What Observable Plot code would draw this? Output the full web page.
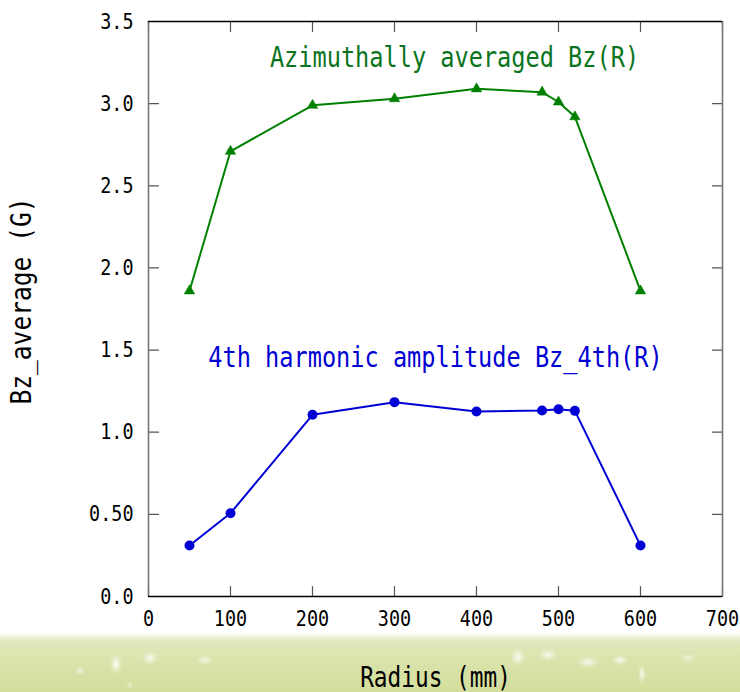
<!DOCTYPE html>
<html>
<head>
<meta charset="utf-8">
<script src="https://cdn.jsdelivr.net/npm/d3@7"></script>
<script src="https://cdn.jsdelivr.net/npm/@observablehq/plot@0.6"></script>
<style>
  html, body { margin: 0; padding: 0; background: #fff; }
  #chart {
    position: relative;
    width: 740px;
    height: 692px;
    overflow: hidden;
    background:
      radial-gradient(ellipse 6px 10px at 116px 664px, rgba(255,255,255,.9), rgba(255,255,255,0)),
      radial-gradient(ellipse 8px 7px at 150px 658px, rgba(255,255,255,.75), rgba(255,255,255,0)),
      radial-gradient(ellipse 9px 5px at 205px 660px, rgba(255,255,255,.6), rgba(255,255,255,0)),
      radial-gradient(ellipse 5px 4px at 80px 671px, rgba(255,255,255,.55), rgba(255,255,255,0)),
      radial-gradient(ellipse 4px 4px at 130px 685px, rgba(255,255,255,.5), rgba(255,255,255,0)),
      radial-gradient(ellipse 7px 9px at 518px 657px, rgba(255,255,255,.8), rgba(255,255,255,0)),
      radial-gradient(ellipse 9px 6px at 548px 655px, rgba(255,255,255,.75), rgba(255,255,255,0)),
      radial-gradient(ellipse 11px 6px at 588px 662px, rgba(255,255,255,.75), rgba(255,255,255,0)),
      radial-gradient(ellipse 8px 5px at 620px 660px, rgba(255,255,255,.8), rgba(255,255,255,0)),
      radial-gradient(ellipse 4px 10px at 642px 674px, rgba(255,255,255,.75), rgba(255,255,255,0)),
      radial-gradient(ellipse 8px 5px at 688px 658px, rgba(255,255,255,.45), rgba(255,255,255,0)),
      linear-gradient(to bottom, #fff 0, #fff 633px, #eef2d8 637px, #e0e8bb 642px, #d9e2a8 665px, #d3de9d 100%);
  }
  #chart svg { position: absolute; left: 0; top: 0; }
</style>
</head>
<body>
<div id="chart"></div>
<script>
// Radial profile of the magnetic field Bz
const radius = [50, 100, 200, 300, 400, 480, 500, 520, 600];
const bzAverage = [1.86, 2.71, 2.99, 3.03, 3.09, 3.07, 3.01, 2.92, 1.86];
const bz4th = [0.31, 0.507, 1.106, 1.183, 1.126, 1.132, 1.14, 1.13, 0.31];

const xTicks = [0, 100, 200, 300, 400, 500, 600, 700];
const yTicks = [0, 0.5, 1.0, 1.5, 2.0, 2.5, 3.0, 3.5];
const yTickLabels = ["0.0", "0.50", "1.0", "1.5", "2.0", "2.5", "3.0", "3.5"];

const xTitle = "Radius (mm)";
const yTitle = "Bz_average (G)";
const averageLabel = "Azimuthally averaged Bz(R)";
const harmonicLabel = "4th harmonic amplitude Bz_4th(R)";

const green = "#008000";
const blue = "#0000d4";

const averageData = radius.map((r, i) => ({r, v: bzAverage[i]}));
const harmonicData = radius.map((r, i) => ({r, v: bz4th[i]}));

// short inward tick drawn as a vector shape
const tickShape = {draw(context, length) { context.moveTo(0, 0); context.lineTo(0, -length); }};
const tickOpts = {length: 10, anchor: "start", shape: tickShape, stroke: "#555", strokeWidth: 1.2};

const chart = Plot.plot({
  width: 740,
  height: 692,
  marginLeft: 148,
  marginRight: 18,
  marginTop: 21,
  marginBottom: 96,
  style: {fontFamily: "'DejaVu Sans Mono', monospace", fontSize: "22px", background: "transparent", color: "#000"},
  x: {domain: [0, 700], axis: null},
  y: {domain: [0, 3.5], axis: null},
  marks: [
    // tick labels
    Plot.axisX(xTicks, {anchor: "bottom", tickSize: 0, tickPadding: 14, label: null, fill: "#000"}),
    Plot.axisY(yTicks, {anchor: "left", tickSize: 0, tickPadding: 15, label: null, fill: "#000",
      tickFormat: (d) => yTickLabels[yTicks.indexOf(d)]}),
    // inward tick marks on all four sides
    Plot.vector(xTicks, {x: (d) => d, y: 0, rotate: 0, ...tickOpts}),
    Plot.vector(xTicks, {x: (d) => d, y: 3.5, rotate: 180, ...tickOpts}),
    Plot.vector(yTicks, {x: 0, y: (d) => d, rotate: 90, ...tickOpts}),
    Plot.vector(yTicks, {x: 700, y: (d) => d, rotate: -90, ...tickOpts}),
    // frame
    Plot.ruleX([0], {stroke: "#777", strokeWidth: 1.6}),
    Plot.ruleX([700], {stroke: "#777", strokeWidth: 1.6}),
    Plot.ruleY([0], {stroke: "#000", strokeWidth: 1.6}),
    Plot.ruleY([3.5], {stroke: "#000", strokeWidth: 1.6}),
    // series
    Plot.line(averageData, {x: "r", y: "v", stroke: green, strokeWidth: 2}),
    Plot.dot(averageData, {x: "r", y: "v", symbol: "triangle", r: 3.9, fill: green, stroke: green, strokeWidth: 0.5}),
    Plot.line(harmonicData, {x: "r", y: "v", stroke: blue, strokeWidth: 2}),
    Plot.dot(harmonicData, {x: "r", y: "v", symbol: "circle", r: 5, fill: blue, stroke: null}),
    // series labels
    Plot.text([averageLabel], {text: (d) => d, frameAnchor: "top", textAnchor: "middle", dx: 19, dy: 37, fill: "#0a7420", fontSize: 28, lineAnchor: "middle"}),
    Plot.text([harmonicLabel], {text: (d) => d, frameAnchor: "top", textAnchor: "middle", dx: 0, dy: 337, fill: blue, fontSize: 28, lineAnchor: "middle"}),
    // axis titles
    Plot.text([xTitle], {text: (d) => d, frameAnchor: "bottom", textAnchor: "middle", dy: 82, fill: "#000", fontSize: 28, lineAnchor: "middle"}),
    Plot.text([yTitle], {text: (d) => d, frameAnchor: "left", textAnchor: "middle", dx: -126, dy: -8, rotate: -90, fill: "#000", fontSize: 28, lineAnchor: "middle"})
  ]
});

// narrow the monospaced glyphs to a half-width advance
const charWidths = new Map([
  [averageLabel, 14.2],
  [harmonicLabel, 14.2],
  [xTitle, 13.7],
  [yTitle, 14.8]
]);
chart.querySelectorAll("text").forEach((t) => {
  const s = t.textContent;
  const w = charWidths.get(s) ?? 11.1;
  t.setAttribute("textLength", (s.length * w).toFixed(1));
  t.setAttribute("lengthAdjust", "spacingAndGlyphs");
});

document.getElementById("chart").appendChild(chart);
</script>
</body>
</html>
